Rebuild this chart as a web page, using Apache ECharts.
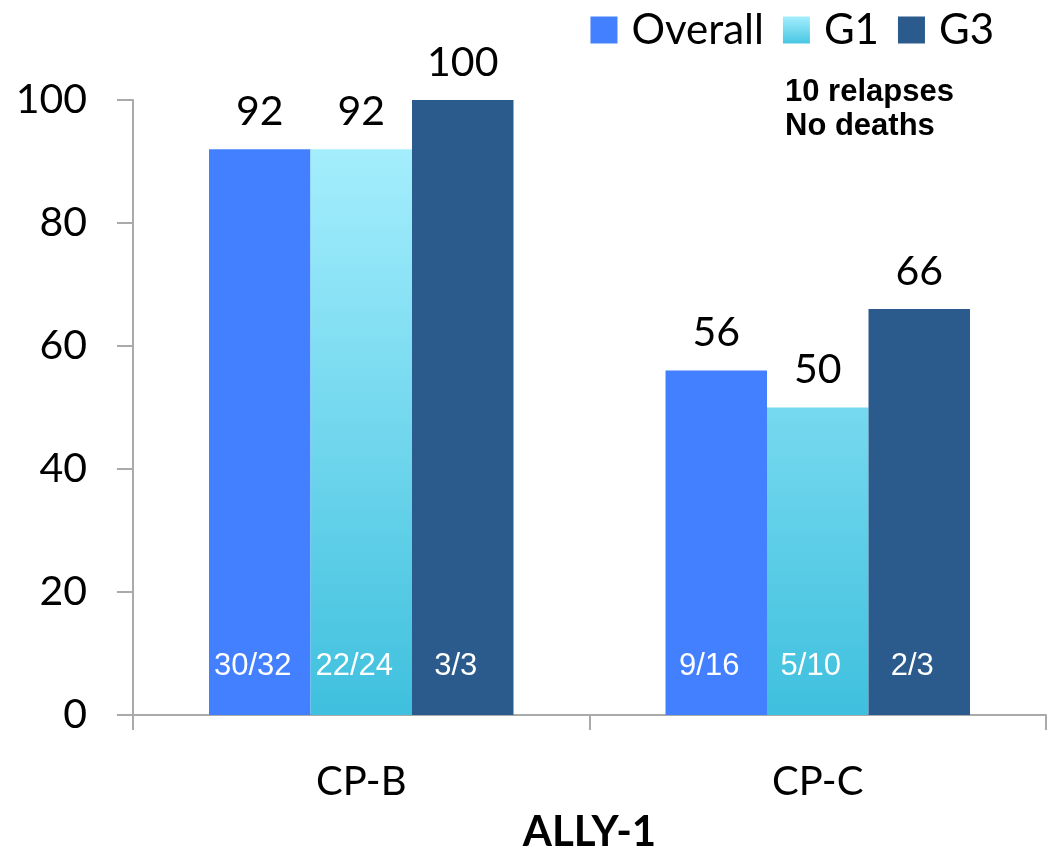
<!DOCTYPE html>
<html>
<head>
<meta charset="utf-8">
<script src="https://cdn.jsdelivr.net/npm/echarts@6/dist/echarts.min.js"></script>
<style>html,body{margin:0;padding:0;background:#fff}#c{width:1055px;height:854px}</style>
</head>
<body>
<div id="c"></div>
<script>
const categories = ['CP-B', 'CP-C'];
const seriesNames = ['Overall', 'G1', 'G3'];
const overall = [92, 56];
const g1 = [92, 50];
const g3 = [100, 66];
const overallFrac = ['30/32', '9/16'];
const g1Frac = ['22/24', '5/10'];
const g3Frac = ['3/3', '2/3'];
const yTicks = [0, 20, 40, 60, 80, 100];
const axisTitle = 'ALLY-1';
const note = '10 relapses\nNo deaths';

const chart = echarts.init(document.getElementById('c'));
const g1Color = new echarts.graphic.LinearGradient(0, 149, 0, 715, [
  {offset: 0, color: '#a4eefd'},
  {offset: 1, color: '#3fc0de'}
], true);
const colors = ['#4380ff', g1Color, '#2a5b8c'];
const legendColors = ['#4380ff', new echarts.graphic.LinearGradient(0,0,0,1,[{offset:0,color:'#a4eefd'},{offset:1,color:'#48c6e2'}]), '#2a5b8c'];
const datasets = [overall, g1, g3];
const fracs = [overallFrac, g1Frac, g3Frac];
const font = 'Lato, "Open Sans", sans-serif';

const series = [];
datasets.forEach((d, i) => {
  series.push({
    name: seriesNames[i], type: 'bar', data: d, xAxisIndex: 0,
    barGap: '0%', barCategoryGap: '33.3%',
    itemStyle: {color: colors[i]},
    label: {show: true, position: 'top', distance: 17, color: '#000', fontFamily: font, fontSize: 41},
    z: 2
  });
});
fracs.forEach((f, i) => {
  series.push({
    type: 'bar', xAxisIndex: 1,
    data: datasets[i].map((v, j) => ({value: v, fracLabel: f[j]})),
    barGap: '0%', barCategoryGap: '33.3%',
    itemStyle: {color: 'rgba(0,0,0,0)'},
    silent: true, tooltip: {show: false},
    label: {show: true, position: 'insideBottom', distance: 33, offset: [-7, 0], color: '#fff',
      fontFamily: '"Liberation Sans", Arial, sans-serif', fontSize: 31,
      formatter: p => p.data.fracLabel},
    z: 3
  });
});

chart.setOption({
  animation: false,
  grid: {left: 133, right: 9, top: 100, bottom: 139, containLabel: false, outerBoundsMode: 'none'},
  legend: {
    data: seriesNames.map((n, i) => ({name: n, itemStyle: {color: legendColors[i]}})),
    right: 56, top: 4, itemWidth: 27, itemHeight: 27, itemGap: 19, icon: 'rect',
    textStyle: {fontFamily: font, fontSize: 42, color: '#000', padding: [0, 0, 0, 9]}
  },
  xAxis: [{
    type: 'category', data: categories,
    axisLine: {lineStyle: {color: '#aaa', width: 2}},
    axisTick: {show: true, length: 15, lineStyle: {color: '#aaa', width: 2}},
    axisLabel: {fontFamily: font, fontSize: 40, color: '#000', margin: 47},
    name: axisTitle, nameLocation: 'middle', nameGap: 96,
    nameTextStyle: {fontFamily: font, fontSize: 42, fontWeight: 'bold', color: '#000'}
  }, {
    type: 'category', data: categories, show: false
  }],
  yAxis: {
    type: 'value', min: 0, max: 100, interval: 20,
    axisLine: {show: true, lineStyle: {color: '#aaa', width: 2}},
    axisTick: {show: true, length: 16, lineStyle: {color: '#aaa', width: 2}},
    splitLine: {show: false},
    axisLabel: {fontFamily: font, fontSize: 41, color: '#000', margin: 46,
      formatter: v => yTicks.includes(v) ? String(v) : ''}
  },
  graphic: [{
    type: 'text', left: 785, top: 75,
    style: {text: note, fontFamily: '"Liberation Sans", Arial, sans-serif', fontWeight: 'bold', fontSize: 31, lineHeight: 34, fill: '#000'}
  }],
  series: series
});
</script>
</body>
</html>
